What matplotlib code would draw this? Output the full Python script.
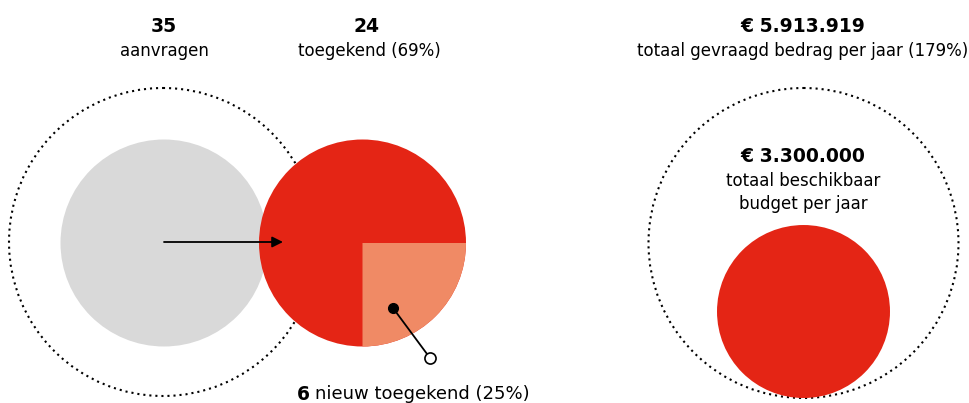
import matplotlib
matplotlib.use("Agg")
import matplotlib.pyplot as plt
from matplotlib.patches import Circle, Wedge

# Data
aanvragen = 35
toegekend = 24
nieuw_toegekend = 6
gevraagd_bedrag = 5913919
beschikbaar_budget = 3300000

pct_toegekend = round(100 * toegekend / aanvragen)
pct_nieuw = round(100 * nieuw_toegekend / toegekend)
pct_gevraagd = round(100 * gevraagd_bedrag / beschikbaar_budget)

def eur(v):
    return "€ " + f"{v:,}".replace(",", ".")

RED = "#E42515"
SALMON = "#F08A65"
GREY = "#D9D9D9"

plt.rcParams['font.family'] = ['DejaVu Sans']

W, H = 969, 403
fig = plt.figure(figsize=(W / 100, H / 100), dpi=100)
ax = fig.add_axes([0, 0, 1, 1])
ax.set_xlim(0, W)
ax.set_ylim(H, 0)
ax.set_aspect('equal')
ax.axis('off')

dot_ls = (0, (1, 1.9))
FS_B = 13.5
FS_R = 12

# Left block
cy = 243
r_small = 103.5
ax.add_patch(Circle((163, 242), 154, fill=False, ec='black', lw=1.5, ls=dot_ls, zorder=1))
ax.add_patch(Circle((164, cy), r_small, fc=GREY, ec='none', zorder=2))
ax.add_patch(Circle((362.5, cy), r_small, fc=RED, ec='none', zorder=3))
share = nieuw_toegekend / toegekend
ax.add_patch(Wedge((362.5, cy), r_small, 0, 360 * share, fc=SALMON, ec='none', zorder=4))
ax.annotate("", xy=(283, 242), xytext=(164, 242),
            arrowprops=dict(arrowstyle='-|>', color='black', lw=1.3,
                            mutation_scale=16, shrinkA=0, shrinkB=0), zorder=5)
ax.plot([393, 430], [308, 358], color='black', lw=1.3, zorder=5)
ax.plot([393], [308], 'o', ms=7, color='black', zorder=6)
ax.plot([430], [358], 'o', ms=8, mfc='white', mec='black', mew=1.2, zorder=6)

ax.text(164, 27, str(aanvragen), ha='center', va='center', fontsize=FS_B, fontweight='bold')
ax.text(164, 51, "aanvragen", ha='center', va='center', fontsize=FS_R)
ax.text(367, 27, str(toegekend), ha='center', va='center', fontsize=FS_B, fontweight='bold')
ax.text(369, 51, f"toegekend ({pct_toegekend}%)", ha='center', va='center', fontsize=FS_R)

t = ax.text(297, 394, str(nieuw_toegekend), ha='left', va='center', fontsize=13.5, fontweight='bold')
fig.canvas.draw()
bb = t.get_window_extent()
x2 = ax.transData.inverted().transform((bb.x1, bb.y0))[0]
ax.text(x2 + 5, 394, f"nieuw toegekend ({pct_nieuw}%)", ha='left', va='center', fontsize=13)

# Right block
R_big = 155
rc = (803.5, 243)
ax.add_patch(Circle(rc, R_big, fill=False, ec='black', lw=1.5, ls=dot_ls, zorder=1))
r_red = R_big * beschikbaar_budget / gevraagd_bedrag
ax.add_patch(Circle((rc[0], rc[1] + R_big - r_red), r_red, fc=RED, ec='none', zorder=3))

ax.text(803, 27, eur(gevraagd_bedrag), ha='center', va='center', fontsize=FS_B, fontweight='bold')
ax.text(803, 51, f"totaal gevraagd bedrag per jaar ({pct_gevraagd}%)", ha='center', va='center', fontsize=FS_R)
ax.text(803, 157, eur(beschikbaar_budget), ha='center', va='center', fontsize=FS_B, fontweight='bold')
ax.text(803, 181, "totaal beschikbaar", ha='center', va='center', fontsize=FS_R)
ax.text(803, 204, "budget per jaar", ha='center', va='center', fontsize=FS_R)

fig.savefig("out.png", dpi=100)
